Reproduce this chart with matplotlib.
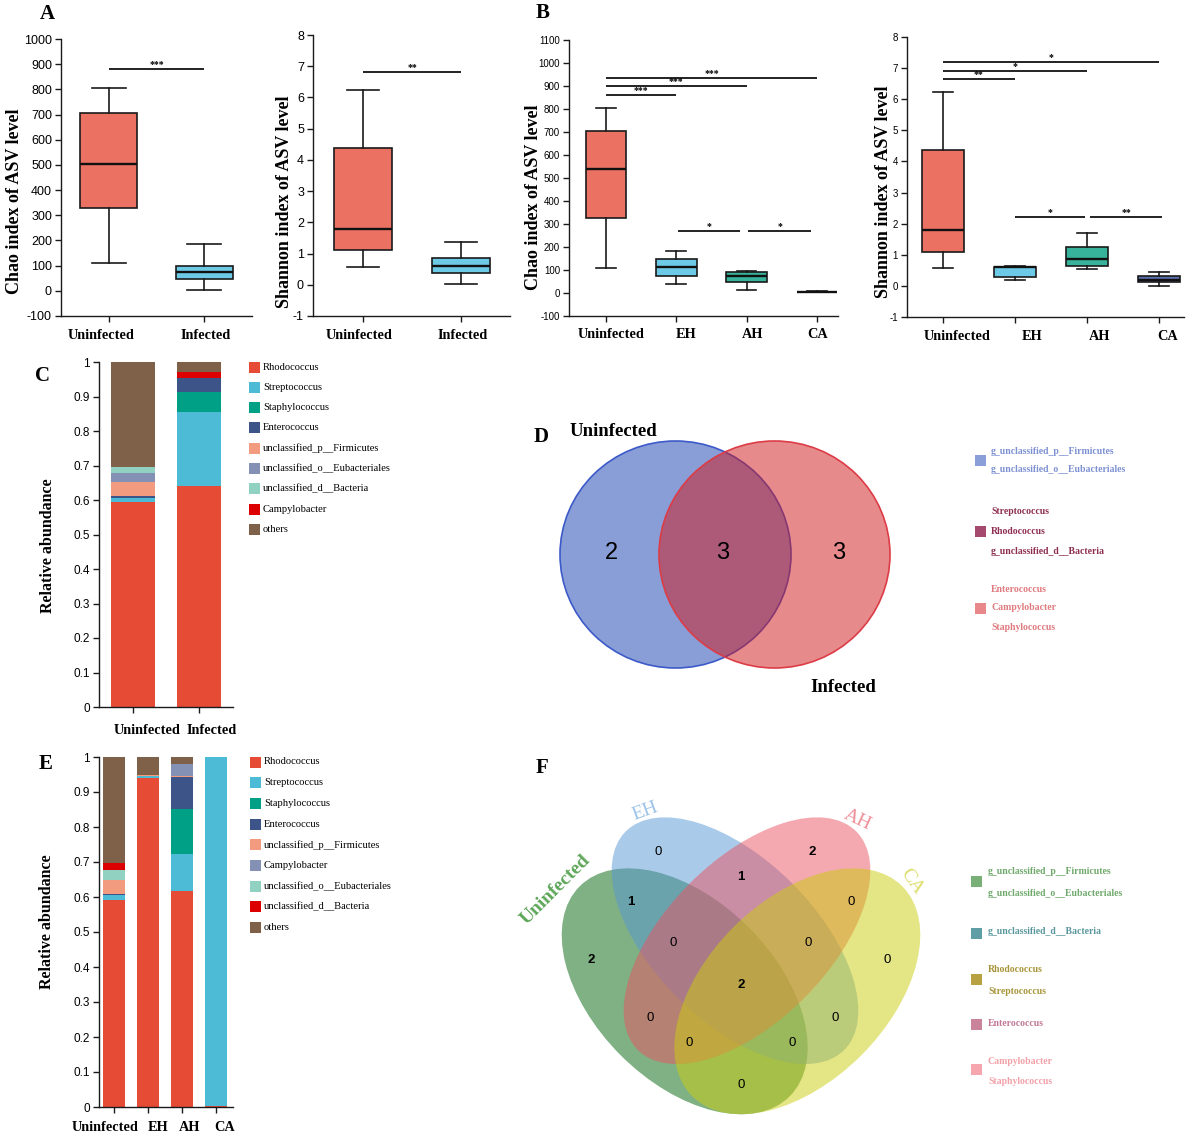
"""Alpha diversity, composition and Venn panels (A-F)."""

import matplotlib

matplotlib.use("Agg")
import matplotlib.pyplot as plt
import numpy as np
from matplotlib.colors import to_rgba
from matplotlib.patches import Ellipse, Rectangle
from matplotlib.transforms import ScaledTranslation

SERIF = "Liberation Serif"
SANS = "Liberation Sans"
W, H = 1200, 1136

plt.rcParams["font.family"] = [SANS, "DejaVu Sans"]
plt.rcParams["axes.unicode_minus"] = False

# ---------------- data ----------------
groups_2 = ["Uninfected", "Infected"]
groups_4 = ["Uninfected", "EH", "AH", "CA"]

# box summaries: lower whisker, Q1, median, Q3, upper whisker
chao_2 = [[110, 328, 502, 706, 806], [5, 45, 75, 100, 185]]
shannon_2 = [[0.58, 1.10, 1.78, 4.38, 6.25], [0.02, 0.38, 0.60, 0.87, 1.37]]
chao_4 = [[109, 326, 540, 704, 804], [41, 74, 114, 148, 184],
          [13, 49, 74, 93, 97], [3, 4, 5, 6, 8]]
shannon_4 = [[0.58, 1.09, 1.79, 4.36, 6.24], [0.18, 0.29, 0.60, 0.61, 0.64],
             [0.54, 0.64, 0.86, 1.25, 1.70], [0.00, 0.11, 0.20, 0.32, 0.44]]

# significance brackets: from, to, height, stars
sig_chao_2 = [(0, 1, 880, "***")]
sig_shannon_2 = [(0, 1, 6.8, "**")]
sig_chao_4 = [(0, 1, 861, "***"), (0, 2, 900, "***"), (0, 3, 936, "***"),
              (1.02, 1.91, 271, "*"), (2.02, 2.92, 271, "*")]
sig_shannon_4 = [(0, 1, 6.65, "**"), (0, 2, 6.92, "*"), (0, 3, 7.2, "*"),
                 (1.0, 1.98, 2.21, "*"), (2.05, 3.05, 2.21, "**")]

# relative abundance (C: two groups)
genera_c = ["Rhodococcus", "Streptococcus", "Staphylococcus", "Enterococcus",
            "unclassified_p__Firmicutes", "unclassified_o__Eubacteriales",
            "unclassified_d__Bacteria", "Campylobacter", "others"]
c_uninfected = [0.593, 0.012, 0.0, 0.006, 0.040, 0.028, 0.017, 0.0, 0.304]
c_infected = [0.641, 0.214, 0.058, 0.042, 0.0, 0.0, 0.0, 0.016, 0.029]

# relative abundance (E: four groups)
genera_e = ["Rhodococcus", "Streptococcus", "Staphylococcus", "Enterococcus",
            "unclassified_p__Firmicutes", "Campylobacter",
            "unclassified_o__Eubacteriales", "unclassified_d__Bacteria", "others"]
e_uninfected = [0.592, 0.013, 0.0, 0.005, 0.040, 0.0, 0.028, 0.018, 0.304]
e_eh = [0.940, 0.006, 0.0, 0.0, 0.004, 0.0, 0.0, 0.0, 0.050]
e_ah = [0.617, 0.105, 0.129, 0.092, 0.002, 0.035, 0.0, 0.0, 0.020]
e_ca = [0.004, 0.996, 0.0, 0.0, 0.0, 0.0, 0.0, 0.0, 0.0]

# Venn D (genera per region)
d_uninf_only = ["g_unclassified_p__Firmicutes", "g_unclassified_o__Eubacteriales"]
d_shared = ["Streptococcus", "Rhodococcus", "g_unclassified_d__Bacteria"]
d_inf_only = ["Enterococcus", "Campylobacter", "Staphylococcus"]

# Venn F (counts per region and the listed genera)
f_region_names = ["U", "EH", "AH", "CA", "EH&AH", "U&EH", "AH&CA", "U&EH&AH",
                  "EH&AH&CA", "U&EH&AH&CA", "U&AH", "EH&CA", "U&AH&CA",
                  "U&EH&CA", "U&CA"]
f_counts = [2, 0, 2, 0, 1, 1, 0, 0, 0, 2, 0, 0, 0, 0, 0]
f_uninf_only = ["g_unclassified_p__Firmicutes", "g_unclassified_o__Eubacteriales"]
f_uninf_eh = ["g_unclassified_d__Bacteria"]
f_core = ["Rhodococcus", "Streptococcus"]
f_eh_ah = ["Enterococcus"]
f_ah_only = ["Campylobacter", "Staphylococcus"]

# ---------------- styles ----------------
BOX_COLORS = {"Uninfected": "#eb7262", "Infected": "#6ccae6", "EH": "#6ccae6",
              "AH": "#36b39a", "CA": "#5a6eaa"}
NPG = ["#E64B35", "#4DBBD5", "#00A087", "#3C5488", "#F39B7F",
       "#8491B4", "#91D1C2", "#DC0000", "#7E6148"]
INK = "#1a1a1a"

fig = plt.figure(figsize=(W / 100, H / 100), dpi=100)


def axes_px(left, top, right, bottom):
    return fig.add_axes([left / W, 1 - bottom / H, (right - left) / W, (bottom - top) / H])


def base_style(ax, tick_size, xpad, ypad):
    for side in ("top", "right"):
        ax.spines[side].set_visible(False)
    for side in ("left", "bottom"):
        ax.spines[side].set_linewidth(1.0)
        ax.spines[side].set_color(INK)
    ax.tick_params(direction="out", length=4, width=1.0, color=INK)
    ax.tick_params(axis="x", pad=xpad)
    ax.tick_params(axis="y", pad=ypad, labelsize=tick_size)


def shift_xlabels(ax, offsets_px):
    for lab, dx in zip(ax.get_xticklabels(), offsets_px):
        lab.set_transform(lab.get_transform()
                          + ScaledTranslation(dx / 100, 0, fig.dpi_scale_trans))


def put_ylabel(ax, box, text, cx, cy, size):
    left, top, right, bottom = box
    ax.set_ylabel(text, fontsize=size, fontweight="bold", family=SERIF, va="center")
    ax.yaxis.set_label_coords((cx - left) / (right - left), (bottom - cy) / (bottom - top))


def box_panel(box, names, stats, sigs, ylim, ystep, xlim, width, cap,
              ylabel, label_xy, tick_size, xpad, label_dx):
    ax = axes_px(*box)
    pos = np.arange(len(names))
    bstats = [dict(whislo=s[0], q1=s[1], med=s[2], q3=s[3], whishi=s[4]) for s in stats]
    art = ax.bxp(bstats, positions=pos, widths=width, capwidths=cap, patch_artist=True,
                 showfliers=False, manage_ticks=False,
                 boxprops=dict(linewidth=1.2, edgecolor=INK),
                 medianprops=dict(color="#111111", linewidth=1.7),
                 whiskerprops=dict(color=INK, linewidth=1.2),
                 capprops=dict(color=INK, linewidth=1.2))
    for patch, name in zip(art["boxes"], names):
        patch.set_facecolor(BOX_COLORS[name])
    for x1, x2, y, s in sigs:
        ax.plot([x1, x2], [y, y], color="#111111", lw=1.3, solid_capstyle="butt")
        ax.text((x1 + x2) / 2, y, s, ha="center", va="bottom", fontsize=7,
                fontweight="bold", family=SERIF)
    ax.set_xlim(*xlim)
    ax.set_ylim(*ylim)
    ax.set_yticks(np.arange(ylim[0], ylim[1] + ystep / 2, ystep))
    ax.set_xticks(pos, names, fontfamily=SERIF, fontweight="bold", fontsize=10.3)
    base_style(ax, tick_size, xpad, 2.5)
    shift_xlabels(ax, label_dx)
    put_ylabel(ax, box, ylabel, label_xy[0], label_xy[1], 13)
    return ax


def stack_panel(box, names, table, xlim, width, label_xy, xpad, label_dx):
    ax = axes_px(*box)
    vals = np.array(table).T
    pos = np.arange(len(names))
    bottom = np.zeros(len(names))
    for row, color in zip(vals, NPG):
        ax.bar(pos, row, width, bottom=bottom, color=color, linewidth=0)
        bottom += row
    ax.set_xlim(*xlim)
    ax.set_ylim(0, 1)
    yt = np.round(np.arange(0, 1.01, 0.1), 1)
    ax.set_yticks(yt, [f"{v:g}" for v in yt])
    ax.set_xticks(pos, names, fontfamily=SERIF, fontweight="bold", fontsize=10.3)
    base_style(ax, 8.5, xpad, 2.5)
    shift_xlabels(ax, label_dx)
    put_ylabel(ax, box, "Relative abundance", label_xy[0], label_xy[1], 11.5)
    return ax


# ---- A ----
box_panel((61, 39, 252, 316), groups_2, chao_2, sig_chao_2, (-100, 1000), 100,
          (-0.505, 1.505), 0.6, 0.36, "Chao index of ASV level", (15, 201), 9, 5.5,
          [-8, 2])
box_panel((313, 35, 510, 316), groups_2, shannon_2, sig_shannon_2, (-1, 8), 1,
          (-0.51, 1.5), 0.6, 0.33, "Shannon index of ASV level", (285, 202), 9, 5.5,
          [-4, 2])

# ---- B ----
box_panel((569, 40, 838, 316), groups_4, chao_4, sig_chao_4, (-100, 1100), 100,
          (-0.526, 3.3), 0.58, 0.28, "Chao index of ASV level", (534, 197), 7, 5,
          [5, 10, 6, 1])
box_panel((907, 37, 1184, 317), groups_4, shannon_4, sig_shannon_4, (-1, 8), 1,
          (-0.5, 3.35), 0.58, 0.28, "Shannon index of ASV level", (884, 192), 7, 5,
          [14, 17, 13, 9])

# ---- C / E ----
stack_panel((99, 362, 233, 707), groups_2, [c_uninfected, c_infected],
            (-0.515, 1.515), 0.67, (48, 546), 8, [14.5, 13])
stack_panel((99, 757, 233, 1107), groups_4, [e_uninfected, e_eh, e_ah, e_ca],
            (-0.44, 3.5), 0.65, (47, 922), 6, [-8.5, 10, 8, 9])

# ---- overlay in pixel coordinates: letters, legends, Venn diagrams ----
ov = fig.add_axes([0, 0, 1, 1])
ov.set_xlim(0, W)
ov.set_ylim(H, 0)
ov.axis("off")
ov.patch.set_visible(False)

for letter, (x, y) in zip("ABCDEF", [(47, 14), (543, 13), (43, 376),
                                     (541, 437), (46, 764), (542, 768)]):
    ov.text(x, y, letter, ha="center", va="center", fontsize=15,
            fontweight="bold", family=SERIF)


def bar_legend(names, x0, y0, step):
    for i, (name, color) in enumerate(zip(names, NPG)):
        y = y0 + i * step
        ov.add_patch(Rectangle((x0, y - 5.5), 11, 11, color=color, lw=0))
        ov.text(x0 + 14, y, name, ha="left", va="center", fontsize=7.6, family=SERIF)


bar_legend(genera_c, 249, 367, 20.3)
bar_legend(genera_e, 250, 762, 20.7)

# Venn D
ov.add_patch(Ellipse((675.5, 554.5), 231, 227, fc=to_rgba("#153db1", 0.5),
                     ec="#3c5ac8", lw=1.2))
ov.add_patch(Ellipse((774.5, 554.5), 231, 227, fc=to_rgba("#d1171b", 0.5),
                     ec="#dc3c46", lw=1.2))
ov.text(613, 432, "Uninfected", ha="center", va="center", fontsize=13.5,
        fontweight="bold", family=SERIF)
ov.text(843, 688, "Infected", ha="center", va="center", fontsize=13.5,
        fontweight="bold", family=SERIF)
for members, x in zip([d_uninf_only, d_shared, d_inf_only], [611, 723, 839]):
    ov.text(x, 553, str(len(members)), ha="center", va="center", fontsize=17)

d_legend = [(d_uninf_only, [451, 469], 460, "#8a9ed8", "#7d91d3"),
            (d_shared, [512, 531, 552], 531, "#a54a6e", "#8e2f52"),
            (d_inf_only, [589, 608, 627], 608, "#e8888b", "#e07a7e")]
for members, ys, sq_y, sq_color, txt_color in d_legend:
    ov.add_patch(Rectangle((975, sq_y - 5.5), 11, 11, color=sq_color, lw=0))
    for name, y in zip(members, ys):
        ov.text(991, y, name, ha="left", va="center", fontsize=7, fontweight="bold",
                family=SERIF, color=txt_color)

# Venn F
f_ellipses = [((684.7, 991.3), 297, 181, 45, "#00640a"),
              ((735.0, 940.7), 309, 162, 45, "#5797d5"),
              ((747.0, 940.7), 309, 162, -45, "#eb5361"),
              ((797.3, 991.3), 297, 181, -45, "#cbcd0d")]
for xy, w, h, ang, color in f_ellipses:
    ov.add_patch(Ellipse(xy, w, h, angle=ang, fc=to_rgba(color, 0.5), ec="none"))

f_set_labels = [("Uninfected", 556, 890, 45, "#5ea65a", "bold"),
                ("EH", 645, 811, 20, "#9cc3e8", "normal"),
                ("AH", 858, 820, -25, "#f0909a", "normal"),
                ("CA", 912, 882, -55, "#dede6e", "normal")]
for text, x, y, rot, color, weight in f_set_labels:
    ov.text(x, y, text, ha="center", va="center", rotation=rot, fontsize=14,
            fontweight=weight, family=SERIF, color=color)

f_region_xy = [(591, 960), (658, 852), (812, 852), (887, 960), (741, 877),
               (631, 902), (851, 902), (673, 943), (808, 943), (741, 985),
               (650, 1018), (835, 1018), (689, 1043), (792, 1043), (741, 1085)]
for count, (x, y) in zip(f_counts, f_region_xy):
    ov.text(x, y, str(count), ha="center", va="center", fontsize=9.5,
            fontweight="bold" if count else "normal")

f_legend = [(f_uninf_only, [872, 894], 881, "#79b077", "#6fa96b"),
            (f_uninf_eh, [931], 933, "#5f9ea4", "#5a979d"),
            (f_core, [969, 991], 979, "#b8a141", "#a8953a"),
            (f_eh_ah, [1024], 1024, "#c9849c", "#c47896"),
            (f_ah_only, [1061, 1082], 1069, "#f5a6ae", "#f2a0a8")]
for members, ys, sq_y, sq_color, txt_color in f_legend:
    ov.add_patch(Rectangle((971, sq_y - 5.5), 11, 11, color=sq_color, lw=0))
    for name, y in zip(members, ys):
        ov.text(988, y, name, ha="left", va="center", fontsize=7, fontweight="bold",
                family=SERIF, color=txt_color)

fig.savefig("out.png", dpi=100)
